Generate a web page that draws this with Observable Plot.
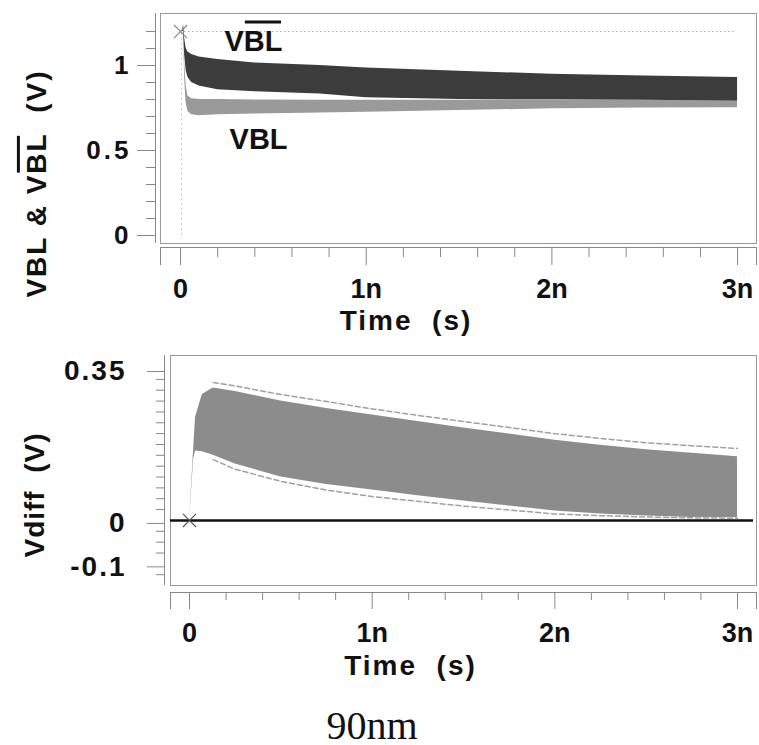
<!DOCTYPE html>
<html>
<head>
<meta charset="utf-8">
<script src="https://cdn.jsdelivr.net/npm/d3@7"></script>
<script src="https://cdn.jsdelivr.net/npm/@observablehq/plot@0.6"></script>
<style>
  html, body { margin: 0; padding: 0; background: #fff; overflow: hidden; }
  #top svg, #bot svg { display: block; }
  #top g[aria-label="y-axis tick label"] { letter-spacing: 3px; }
  #bot g[aria-label="y-axis tick label"] { letter-spacing: 2px; }
  #caption { height: 45px; line-height: 52px; font-family: "Liberation Serif", "Times New Roman", serif; font-size: 40px; text-align: center; padding-right: 15px; color: #111; }
</style>
</head>
<body>
<div id="top"></div>
<div id="bot"></div>
<div id="caption">90nm</div>
<script>
const FONT = "'Liberation Sans', Arial, Helvetica, sans-serif";

// ---------- Top panel data (time in ns, volts) ----------
const tTop      = [0.01, 0.016, 0.022, 0.03, 0.04, 0.06, 0.1, 0.2, 0.4, 0.75, 1.0, 1.5, 2.0, 2.5, 3.0];
const vblbarHi  = [1.2, 1.24, 1.16, 1.1, 1.08, 1.065, 1.05, 1.035, 1.015, 1.0, 0.985, 0.967, 0.948, 0.938, 0.93];
const vblbarLo  = [1.2, 1.2, 1.06, 0.97, 0.93, 0.9, 0.88, 0.858, 0.846, 0.832, 0.81, 0.8, 0.798, 0.795, 0.79];
const vblHi     = [1.2, 1.22, 1.02, 0.88, 0.82, 0.805, 0.8, 0.8, 0.797, 0.795, 0.795, 0.796, 0.797, 0.795, 0.79];
const vblLo     = [1.2, 1.2, 0.92, 0.78, 0.73, 0.71, 0.705, 0.71, 0.715, 0.72, 0.725, 0.735, 0.745, 0.75, 0.752];
const prechargeV = 1.2;
const prechargeSpan = [0, 2.98];
const curveLabelText = ["VBL", "VBL"];   // first one is the complement (overlined)
const curveLabelT = [0.393, 0.42];
const curveLabelV = [1.138, 0.565];
const yTitleTop = "VBL & VBL\u00a0\u00a0(V)";   // second "BL" is overlined
const xTitle = "Time\u00a0\u00a0(s)";
const yTitleBot = "Vdiff\u00a0\u00a0(V)";

const xTicks = [0, 1, 2, 3];
const xTickLabels = ["0", "1n", "2n", "3n"];
const xMinorTicks = [0.2, 0.4, 0.6, 0.8, 1.2, 1.4, 1.6, 1.8, 2.2, 2.4, 2.6, 2.8];
const yTicksTop = [0, 0.5, 1];
const yTickLabelsTop = ["0", "0.5", "1"];
const yMinorTop = [0.1, 0.2, 0.3, 0.4, 0.6, 0.7, 0.8, 0.9, 1.1, 1.2];

// ---------- Bottom panel data ----------
const tBot   = [0, 0.01, 0.022, 0.033, 0.07, 0.13, 0.25, 0.5, 0.75, 1.0, 1.25, 1.5, 1.75, 2.0, 2.25, 2.5, 2.75, 3.0];
const vdiffHi = [0, 0.07, 0.16, 0.237, 0.29, 0.305, 0.297, 0.275, 0.258, 0.243, 0.228, 0.213, 0.199, 0.185, 0.173, 0.163, 0.155, 0.147];
const vdiffLo = [0, 0.06, 0.14, 0.16, 0.158, 0.15, 0.13, 0.1, 0.083, 0.07, 0.057, 0.045, 0.033, 0.022, 0.015, 0.01, 0.007, 0.006];
const tEnv    = [0.13, 0.25, 0.5, 0.75, 1.0, 1.25, 1.5, 1.75, 2.0, 2.25, 2.5, 2.75, 3.0];
const envHi   = [0.318, 0.31, 0.29, 0.274, 0.257, 0.242, 0.228, 0.214, 0.2, 0.189, 0.179, 0.172, 0.166];
const envLo   = [0.14, 0.118, 0.09, 0.07, 0.055, 0.044, 0.033, 0.024, 0.015, 0.011, 0.008, 0.006, 0.005];

const yTicksBot = [-0.1, 0, 0.35];
const yTickLabelsBot = ["-0.1", "0", "0.35"];
const yMinorBot = [-0.125, -0.075, -0.05, -0.025, 0.025, 0.05, 0.075, 0.1, 0.125, 0.15, 0.175, 0.2, 0.225, 0.25, 0.275, 0.3, 0.325];

// ---------- build tables ----------
const topRows = tTop.map((t, i) => ({t, barHi: vblbarHi[i], barLo: vblbarLo[i], hi: vblHi[i], lo: vblLo[i]}));
const botRows = tBot.map((t, i) => ({t, hi: vdiffHi[i], lo: vdiffLo[i]}));
const envRows = tEnv.map((t, i) => ({t, hi: envHi[i], lo: envLo[i]}));
const labelRows = curveLabelText.map((s, i) => ({s, t: curveLabelT[i], v: curveLabelV[i]}));

const xFmt = d => xTickLabels[xTicks.indexOf(d)];
const ticksCommon = {fontWeight: "bold", stroke: "#888", fill: "#111", label: null};

// ---------- top plot ----------
const xDomTop = [-0.135, 3.102];
const yDomTop = [-0.0706, 1.306];
const topPlot = Plot.plot({
  width: 759, height: 345,
  marginLeft: 155, marginRight: 3, marginTop: 13, marginBottom: 98,
  x: {domain: xDomTop},
  y: {domain: yDomTop},
  style: {fontFamily: FONT, background: "white", color: "#111", overflow: "visible"},
  marks: [
    Plot.frame({stroke: "#9a9a9a", insetLeft: 5, insetBottom: 4}),
    Plot.ruleY([prechargeV], {x1: prechargeSpan[0], x2: prechargeSpan[1], stroke: "#aaa", strokeDasharray: "1.5,2.5"}),
    Plot.ruleX([0.005], {y1: 0, y2: prechargeV, stroke: "#ccc", strokeDasharray: "2,3"}),
    Plot.areaY(topRows, {x: "t", y1: "lo", y2: "hi", fill: "#9a9a9a"}),
    Plot.areaY(topRows, {x: "t", y1: "barLo", y2: "barHi", fill: "#3c3c3c"}),
    Plot.dot([{t: 0, v: prechargeV}], {x: "t", y: "v", symbol: "times", r: 6, stroke: "#888", strokeWidth: 1.2}),
    Plot.text(labelRows, {x: "t", y: "v", text: "s", fontSize: 29, fontWeight: "bold", fill: "#111"}),
    Plot.ruleX([xDomTop[0]], {stroke: "#888", insetBottom: 4}),
    Plot.ruleY([yDomTop[0]], {stroke: "#888", insetLeft: 5}),
    Plot.axisX({ticks: xTicks, tickSize: 18, tickPadding: 13, tickFormat: xFmt, fontSize: 27, ...ticksCommon}),
    Plot.axisX({ticks: xMinorTicks, tickSize: 10, stroke: "#888", fill: "none", label: null}),
    Plot.axisX({ticks: [-0.108, 3.102], tickSize: 18, stroke: "#888", fill: "none", label: null}),
    Plot.axisY({ticks: yTicksTop, tickSize: 18, tickPadding: 6, tickFormat: d => yTickLabelsTop[yTicksTop.indexOf(d)], fontSize: 26, ...ticksCommon}),
    Plot.axisY({ticks: yMinorTop, tickSize: 9, stroke: "#888", fill: "none", label: null}),
    Plot.text([xTitle], {text: d => d, frameAnchor: "bottom", textAnchor: "middle", dx: -50, dy: 82, fontSize: 28, fontWeight: "bold", fill: "#111"}),
    Plot.text([yTitleTop], {text: d => d, frameAnchor: "left", textAnchor: "middle", rotate: -90, dx: -118, dy: 53, fontSize: 28, fontWeight: "bold", fill: "#111"})
  ]
});
document.getElementById("top").appendChild(topPlot);

// ---------- bottom plot ----------
const xDomBot = [-0.137, 3.104];
const yDomBot = [-0.166, 0.38];
const botPlot = Plot.plot({
  width: 759, height: 355,
  marginLeft: 164, marginRight: 3, marginTop: 10, marginBottom: 108,
  x: {domain: xDomBot},
  y: {domain: yDomBot},
  style: {fontFamily: FONT, background: "white", color: "#111", overflow: "visible"},
  marks: [
    Plot.frame({stroke: "#9a9a9a", insetLeft: 6, insetBottom: 7}),
    Plot.areaY(botRows, {x: "t", y1: "lo", y2: "hi", fill: "#8c8c8c"}),
    Plot.line(envRows, {x: "t", y: "hi", stroke: "#a0a0a0", strokeWidth: 1.5, strokeDasharray: "5,3"}),
    Plot.line(envRows, {x: "t", y: "lo", stroke: "#a0a0a0", strokeWidth: 1.5, strokeDasharray: "5,3"}),
    Plot.ruleY([0], {stroke: "#111", strokeWidth: 2.5, insetLeft: 6, insetRight: 3}),
    Plot.dot([{t: 0, v: 0}], {x: "t", y: "v", symbol: "times", r: 6, stroke: "#555", strokeWidth: 1.2}),
    Plot.ruleX([xDomBot[0]], {stroke: "#888", insetBottom: 7}),
    Plot.ruleY([yDomBot[0]], {stroke: "#888", insetLeft: 6}),
    Plot.axisX({ticks: xTicks, tickSize: 17, tickPadding: 13, tickFormat: xFmt, fontSize: 27, ...ticksCommon}),
    Plot.axisX({ticks: xMinorTicks, tickSize: 8, stroke: "#888", fill: "none", label: null}),
    Plot.axisX({ticks: [-0.104, 3.104], tickSize: 17, stroke: "#888", fill: "none", label: null}),
    Plot.axisY({ticks: yTicksBot, tickSize: 17, tickPadding: 21, dy: 3, tickFormat: d => yTickLabelsBot[yTicksBot.indexOf(d)], fontSize: 28, ...ticksCommon}),
    Plot.axisY({ticks: yMinorBot, tickSize: 8, stroke: "#888", fill: "none", label: null}),
    Plot.text([xTitle], {text: d => d, frameAnchor: "bottom", textAnchor: "middle", dx: -50, dy: 82, fontSize: 28, fontWeight: "bold", fill: "#111"}),
    Plot.text([yTitleBot], {text: d => d, frameAnchor: "left", textAnchor: "middle", rotate: -90, dx: -129, dy: 21, fontSize: 28, fontWeight: "bold", fill: "#111"})
  ]
});
document.getElementById("bot").appendChild(botPlot);

// ---------- title letter spacing + overline on the complement "BL" ----------
const allText = [...topPlot.querySelectorAll("text"), ...botPlot.querySelectorAll("text")];
allText.filter(t => t.textContent === xTitle || t.textContent === yTitleTop)
  .forEach(t => { t.style.letterSpacing = "2px"; });
allText.filter(t => t.textContent === yTitleBot)
  .forEach(t => { t.style.letterSpacing = "1px"; });

function addOverline(textEl, i0, i1, ls, fs, gap) {
  try {
    const p0 = textEl.getStartPositionOfChar(i0);
    const p1 = textEl.getEndPositionOfChar(i1);
    const y = p0.y - 0.716 * fs - gap;
    const line = document.createElementNS("http://www.w3.org/2000/svg", "line");
    line.setAttribute("x1", p0.x + 1);
    line.setAttribute("x2", p1.x - ls - 1.5);
    line.setAttribute("y1", y);
    line.setAttribute("y2", y);
    line.setAttribute("stroke", "#111");
    line.setAttribute("stroke-width", 3);
    const tr = textEl.getAttribute("transform");
    if (tr) line.setAttribute("transform", tr);
    textEl.parentNode.appendChild(line);
  } catch (e) {}
}
const yt = allText.find(t => t.textContent === yTitleTop);
if (yt) addOverline(yt, 7, 8, 2, 28, 8);
const vblTexts = [...topPlot.querySelectorAll("text")].filter(t => t.textContent === curveLabelText[0]);
if (vblTexts.length) {
  // the complement label is the upper one
  const upper = vblTexts.reduce((a, b) => (a.getBoundingClientRect().top < b.getBoundingClientRect().top ? a : b));
  addOverline(upper, 1, 2, 0, 29, 8.5);
}
</script>
</body>
</html>
